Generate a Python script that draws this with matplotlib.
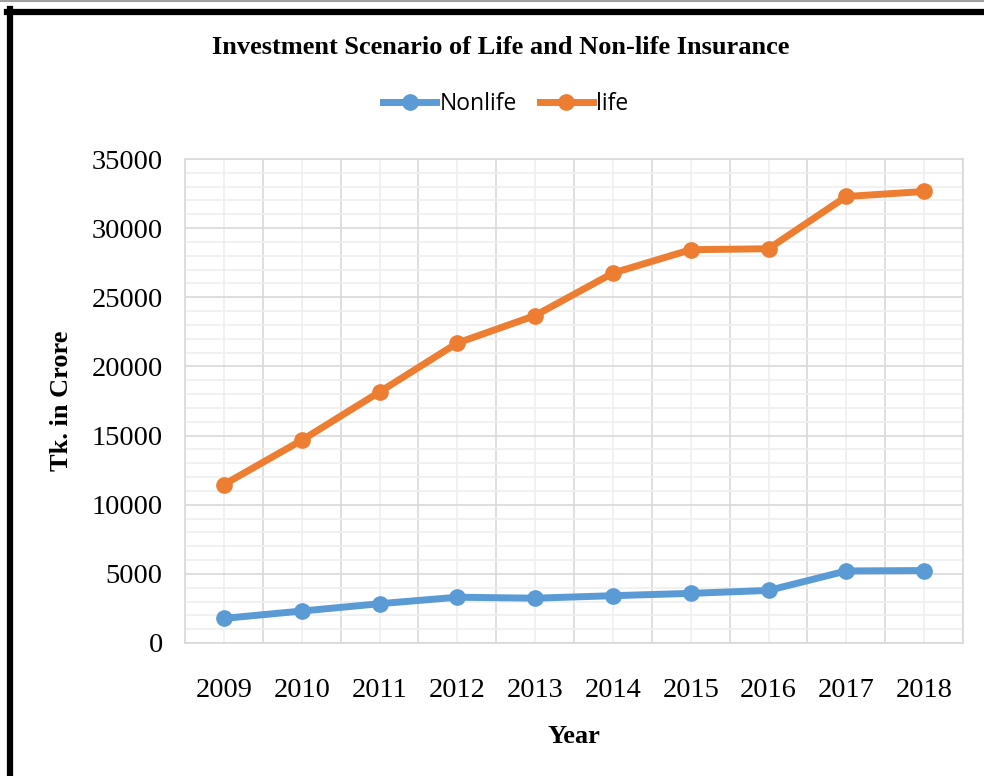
import matplotlib.pyplot as plt
from matplotlib.lines import Line2D
import numpy as np

years = ['2009', '2010', '2011', '2012', '2013', '2014', '2015', '2016', '2017', '2018']
nonlife = [1780, 2310, 2840, 3310, 3240, 3420, 3590, 3800, 5210, 5240]
life = [11460, 14660, 18150, 21690, 23680, 26750, 28440, 28510, 32290, 32650]

blue = '#5B9BD5'
orange = '#ED7D31'
serif = 'Liberation Serif'

fig = plt.figure(figsize=(9.84, 7.76), dpi=100)
ax = fig.add_axes([0.188, 0.1714, 0.7907, 0.6237])

x = np.arange(len(years))
ax.plot(x, nonlife, color=blue, lw=5, marker='o', ms=11, label='Nonlife', zorder=3)
ax.plot(x, life, color=orange, lw=5, marker='o', ms=11, label='life', zorder=3)

ax.set_xlim(-0.5, len(years) - 0.5)
ax.set_ylim(0, 35000)
ax.set_xticks(x)
ax.set_xticklabels(years, fontfamily=serif, fontsize=20.5)
ax.set_xticks(np.arange(-0.5, len(years), 1), minor=True)
ax.set_yticks(np.arange(0, 35001, 5000))
ax.set_yticklabels([str(v) for v in range(0, 35001, 5000)], fontfamily=serif, fontsize=20.5)
ax.set_yticks(np.arange(0, 35001, 1000), minor=True)
ax.tick_params(axis='both', which='both', length=0)
ax.tick_params(axis='x', pad=25)
ax.tick_params(axis='y', pad=16)

ax.grid(axis='x', which='major', color='#EFEFEF', lw=1.2)
ax.grid(axis='x', which='minor', color='#D9D9D9', lw=1.2)
ax.grid(axis='y', which='major', color='#D9D9D9', lw=1.2)
ax.grid(axis='y', which='minor', color='#EFEFEF', lw=1.2)
ax.set_axisbelow(True)
for s in ax.spines.values():
    s.set_color('#D9D9D9')
    s.set_linewidth(1.2)

ax.set_xlabel('Year', fontfamily=serif, fontsize=19, fontweight='bold', labelpad=16)
ax.set_ylabel('Tk. in Crore', fontfamily=serif, fontsize=19, fontweight='bold', labelpad=13)

fig.text(0.509, 0.939, 'Investment Scenario of Life and Non-life Insurance',
         ha='center', va='center', fontfamily=serif, fontsize=19, fontweight='bold')

fig.legend(loc='center', bbox_to_anchor=(0.514, 0.866), ncol=2, frameon=False,
           prop={'family': 'Open Sans', 'size': 16.5}, handlelength=2.3,
           columnspacing=1.0, handletextpad=0.15)

# black frame around the figure (top and left visible)
fig.add_artist(Line2D([7 / 984, 1.0], [1 - 12 / 776, 1 - 12 / 776], color='black', lw=4.5,
                      transform=fig.transFigure))
fig.add_artist(Line2D([10 / 984, 10 / 984], [0, 1 - 9 / 776], color='black', lw=4.5,
                      transform=fig.transFigure))
fig.add_artist(Line2D([0, 1.0], [1 - 1 / 776, 1 - 1 / 776], color='#A0A0A0', lw=1.5,
                      transform=fig.transFigure))

fig.savefig('out.png', dpi=100)
